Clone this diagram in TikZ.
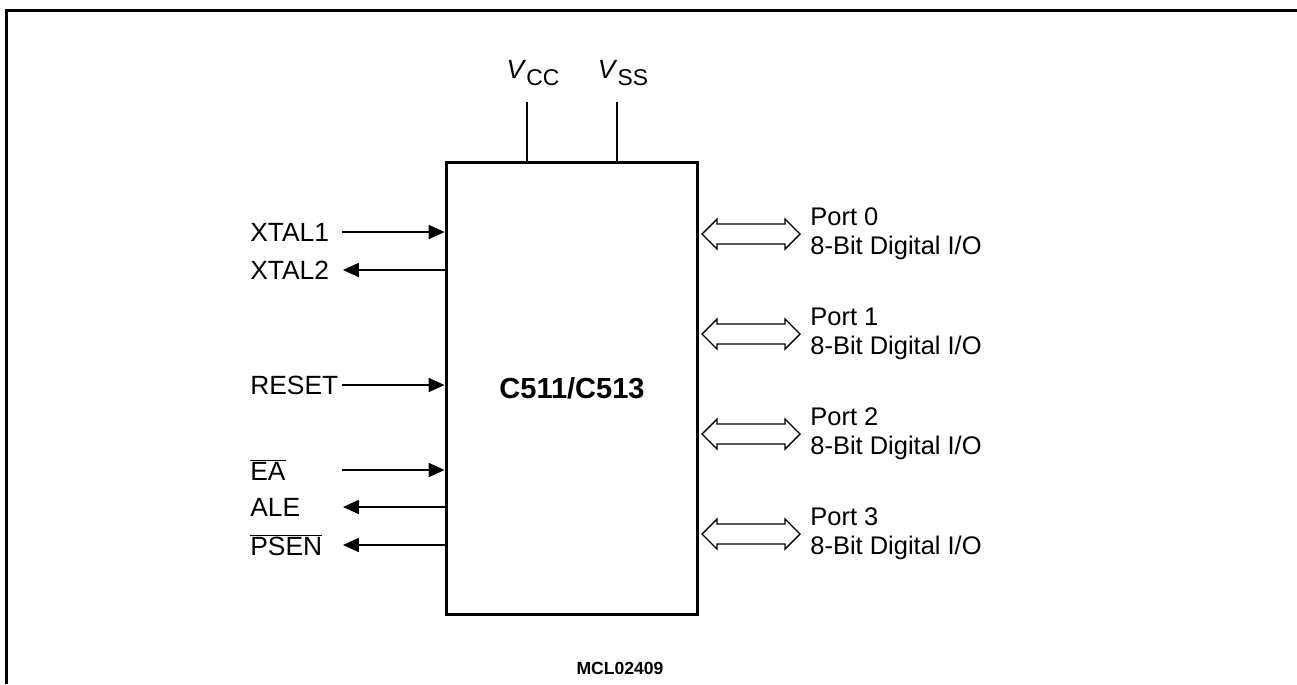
\documentclass[tikz,border=0pt]{standalone}
\usepackage{fontspec}
\setmainfont{Liberation Sans}
\definecolor{ChipInk}{HTML}{000000}
\usetikzlibrary{arrows.meta,positioning}
\newcommand{\barsig}[1]{$\overline{\mbox{#1}}$}
\tikzset{
  chip/.style={draw=ChipInk, line width=1.7pt, minimum width=5.04cm, minimum height=9.06cm, inner sep=0pt, font=\fontsize{16.5}{20}\selectfont\bfseries},
  pin/.style={inner sep=0pt, anchor=west, font=\fontsize{15}{18}\selectfont},
  port/.style={inner sep=0pt, anchor=base west, font=\fontsize{14.5}{17}\selectfont},
  arrow/.style={-{Triangle[length=9pt,width=8pt]}, line width=0.8pt, ChipInk},
  supply/.style={line width=1.1pt, ChipInk},
  frame/.style={line width=1.7pt, ChipInk},
  busarrow/.pic={
    \draw[line width=0.8pt, ChipInk] (0,0) -- (15,-15) -- (15,-10) -- (83,-10) -- (83,-15) -- (98,0)
      -- (83,15) -- (83,10) -- (15,10) -- (15,15) -- cycle;
  }
}
\begin{document}
\begin{tikzpicture}[x=0.02cm, y=-0.02cm]
    \useasboundingbox (0,0) rectangle (1297,684);
    \draw[frame] (6.5,684) -- (6.5,10.5) -- (1297,10.5);

    \node[chip] (chip) at (572,388.5) {C511/C513};
    \node[font=\fontsize{10}{12}\selectfont\bfseries, inner sep=0pt] (code) at (620,668) {MCL02409};

    % supply pins
    \coordinate (vcctop) at (527,102);
    \coordinate (vsstop) at (617,102);
    \draw[supply] (vcctop) -- (vcctop |- chip.north);
    \draw[supply] (vsstop) -- (vsstop |- chip.north);
    \node[pin, anchor=center] (vcc) at (533,73) {\textit{V}\raisebox{-0.45ex}{\fontsize{13}{13}\selectfont CC}};
    \node[pin, anchor=center] (vss) at (623,73) {\textit{V}\raisebox{-0.45ex}{\fontsize{13}{13}\selectfont SS}};

    % left side pins
    \node[pin] (xtal1) at (250,232) {XTAL1};
    \node[pin] (xtal2) at (250,270) {XTAL2};
    \node[pin] (reset) at (250,385) {RESET};
    \node[pin] (ea) at (250,470) {\barsig{EA}};
    \node[pin] (ale) at (250,507) {ALE};
    \node[pin] (psen) at (250,545) {\barsig{PSEN}};

    \coordinate (xtal1end) at (342,232);
    \coordinate (xtal2end) at (343,270);
    \coordinate (resetend) at (342,385);
    \coordinate (eaend) at (342,470);
    \coordinate (aleend) at (343,507);
    \coordinate (psenend) at (343,545);

    \draw[arrow] (xtal1end) -- (xtal1end -| chip.west);
    \draw[arrow] (xtal2end -| chip.west) -- (xtal2end);
    \draw[arrow] (resetend) -- (resetend -| chip.west);
    \draw[arrow] (eaend) -- (eaend -| chip.west);
    \draw[arrow] (aleend -| chip.west) -- (aleend);
    \draw[arrow] (psenend -| chip.west) -- (psenend);

    % ports
    \coordinate (bus0) at (702,234);
    \coordinate (bus1) at (702,334);
    \coordinate (bus2) at (702,434);
    \coordinate (bus3) at (702,534);
    \pic at (bus0) {busarrow};
    \pic at (bus1) {busarrow};
    \pic at (bus2) {busarrow};
    \pic at (bus3) {busarrow};

    \node[port] (port0) at (810,225) {Port 0};
    \node[port] (port0io) at (810,254) {8-Bit Digital I/O};
    \node[port] (port1) at (810,325) {Port 1};
    \node[port] (port1io) at (810,354) {8-Bit Digital I/O};
    \node[port] (port2) at (810,425) {Port 2};
    \node[port] (port2io) at (810,454) {8-Bit Digital I/O};
    \node[port] (port3) at (810,525) {Port 3};
    \node[port] (port3io) at (810,554) {8-Bit Digital I/O};
\end{tikzpicture}
\end{document}
